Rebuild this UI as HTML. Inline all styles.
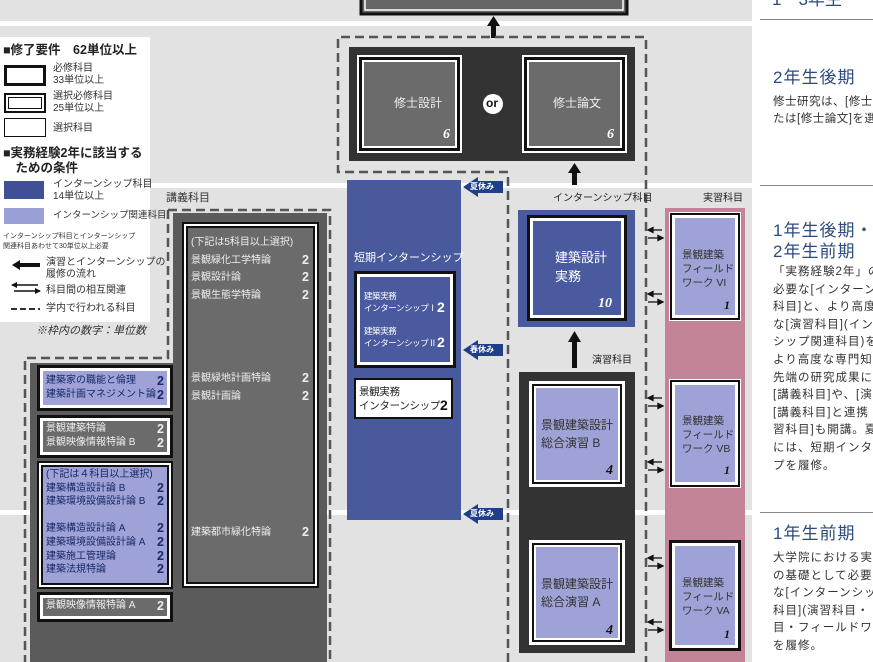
<!DOCTYPE html>
<html><head><meta charset="utf-8"><style>
*{margin:0;padding:0;box-sizing:border-box}
body{width:873px;height:662px;overflow:hidden;background:#e2e2e2;font-family:"Liberation Sans","Noto Sans CJK JP",sans-serif;position:relative}
.a{position:absolute}
.t{position:absolute;white-space:nowrap;line-height:1.2}
.num{font-weight:bold;font-style:italic;font-family:"Liberation Serif","Noto Serif CJK SC",serif}
.l b{float:right;font-size:12.5px;line-height:inherit}
</style></head><body>
<div class="a" style="left:0;top:21px;width:752px;height:5px;background:#fff"></div>
<div class="a" style="left:0;top:183px;width:752px;height:5px;background:#fff"></div>
<div class="a" style="left:0;top:510px;width:752px;height:5px;background:#fff"></div>
<div class="a" style="left:752px;top:0;width:121px;height:662px;background:#fff"></div>
<div class="a" style="left:760px;top:19px;width:113px;height:1px;background:#888"></div>
<div class="a" style="left:760px;top:185px;width:113px;height:1px;background:#888"></div>
<div class="a" style="left:760px;top:512px;width:113px;height:1px;background:#888"></div>
<div class="t" style="left:772px;top:-10px;font-size:17px;color:#2c4a7e">1・3年生</div>
<div class="t" style="left:773px;top:68px;font-size:17px;color:#2c4a7e;letter-spacing:1px">2年生後期</div>
<div class="t" style="left:773px;top:94px;font-size:11.5px;color:#333;line-height:17px;letter-spacing:0.5px">修士研究は、[修士設計]ま<br>たは[修士論文]を選択</div>
<div class="t" style="left:773px;top:220px;font-size:17px;color:#2c4a7e;line-height:21px;letter-spacing:1px">1年生後期・<br>2年生前期</div>
<div class="t" style="left:773px;top:264px;font-size:11.5px;color:#333;line-height:17.6px;letter-spacing:1px">「実務経験2年」の<br>必要な[インターンシップ<br>科目]と、より高度で<br>な[演習科目](インターン<br>シップ関連科目)を<br>より高度な専門知識<br>先端の研究成果に<br>[講義科目]や、[演習<br>[講義科目]と連携<br>習科目]も開講。夏<br>には、短期インターン<br>プを履修。</div>
<div class="t" style="left:773px;top:524px;font-size:17px;color:#2c4a7e;letter-spacing:1px">1年生前期</div>
<div class="t" style="left:773px;top:550px;font-size:11.5px;color:#333;line-height:17.6px;letter-spacing:1px">大学院における実<br>の基礎として必要<br>な[インターンシップ<br>科目](演習科目・<br>目・フィールドワーク<br>を履修。</div>

<div class="a" style="left:0;top:37px;width:150px;height:285px;background:#fff"></div>
<div class="t" style="left:3px;top:43px;font-size:12.5px;font-weight:bold;color:#222">■修了要件　62単位以上</div>
<div class="a" style="left:4px;top:65px;width:42px;height:21px;border:3px solid #111"></div>
<div class="t" style="left:53px;top:63px;font-size:10px;color:#333;line-height:12px">必修科目<br>33単位以上</div>
<div class="a" style="left:4px;top:93px;width:42px;height:20px;border:2px solid #111;outline:1.5px solid #111;outline-offset:-5px"></div>
<div class="t" style="left:53px;top:91px;font-size:10px;color:#333;line-height:12px">選択必修科目<br>25単位以上</div>
<div class="a" style="left:4px;top:118px;width:42px;height:19px;border:1.5px solid #111"></div>
<div class="t" style="left:53px;top:123px;font-size:10px;color:#333">選択科目</div>
<div class="t" style="left:3px;top:146px;font-size:12.5px;font-weight:bold;color:#222;line-height:15px">■実務経験2年に該当する<br>　ための条件</div>
<div class="a" style="left:4px;top:181px;width:40px;height:18px;background:#3f5097"></div>
<div class="t" style="left:53px;top:179px;font-size:10px;color:#333;line-height:12px">インターンシップ科目<br>14単位以上</div>
<div class="a" style="left:4px;top:208px;width:40px;height:16px;background:#9aa0d6"></div>
<div class="t" style="left:53px;top:210px;font-size:9.5px;color:#333">インターンシップ関連科目</div>
<div class="t" style="left:3px;top:232px;font-size:7px;color:#333;line-height:10px">インターンシップ科目とインターンシップ<br>関連科目あわせて30単位以上必要</div>
<svg class="a" style="left:0;top:255px" width="50" height="60">
<polygon points="12,10 20,5 20,8 40,8 40,12 20,12 20,15" fill="#111"/>
<line x1="12" y1="30" x2="38" y2="30" stroke="#111" stroke-width="1.5"/><polygon points="11,30 17,27 17,33" fill="#111"/>
<line x1="14" y1="36" x2="40" y2="36" stroke="#111" stroke-width="1.5"/><polygon points="41,36 35,33 35,39" fill="#111"/>
<line x1="11" y1="54" x2="40" y2="54" stroke="#333" stroke-width="2" stroke-dasharray="6,3"/>
</svg>
<div class="t" style="left:46px;top:257px;font-size:10px;color:#333;line-height:12px">演習とインターンシップの<br>履修の流れ</div>
<div class="t" style="left:46px;top:285px;font-size:10px;color:#333">科目間の相互関連</div>
<div class="t" style="left:46px;top:303px;font-size:10px;color:#333">学内で行われる科目</div>
<div class="t" style="left:36px;top:325px;font-size:11px;font-style:italic;color:#333">※枠内の数字：単位数</div>

<svg class="a" style="left:0;top:0" width="752" height="662">
<path d="M173 213 H327 V662 H30 V363 H173 Z" fill="#5b5b5b"/>
<path d="M168 210 H330 V662 M168 210 V358 H25 V662" fill="none" stroke="#555" stroke-width="2.5" stroke-dasharray="9,5"/>
<rect x="361" y="-4" width="266" height="18" fill="#666" stroke="#111" stroke-width="3"/>
<rect x="365" y="-4" width="258" height="14" fill="none" stroke="#fff" stroke-width="1.5"/>
<rect x="491" y="24" width="5" height="14" fill="#111"/><polygon points="493.5,16 487,26 500,26" fill="#111"/>
<rect x="572" y="171" width="5" height="14" fill="#111"/><polygon points="574.5,163 568,173 581,173" fill="#111"/>
<rect x="572" y="340" width="5" height="28" fill="#111"/><polygon points="574.5,331 568,342 581,342" fill="#111"/>
<rect x="572" y="505" width="5" height="30" fill="#fff"/><polygon points="574.5,496 568,507 581,507" fill="#fff"/>
<path d="M508 662 V172 H338 V37 H646 V662" fill="none" stroke="#555" stroke-width="2.5" stroke-dasharray="9,5"/>
<rect x="349" y="47" width="286" height="114" fill="#333"/>
<rect x="357" y="55" width="105" height="98" fill="#fff"/><rect x="359" y="57" width="101" height="94" fill="#111"/><rect x="362" y="60" width="95" height="88" fill="#fff"/><rect x="364" y="62" width="91" height="84" fill="#6b6b6b"/>
<rect x="522" y="55" width="105" height="98" fill="#fff"/><rect x="524" y="57" width="101" height="94" fill="#111"/><rect x="527" y="60" width="95" height="88" fill="#fff"/><rect x="529" y="62" width="91" height="84" fill="#6b6b6b"/>
<circle cx="493" cy="104" r="10" fill="#fff"/>
<rect x="347" y="180" width="114" height="340" fill="#485a9b"/>
<rect x="354" y="271" width="102" height="97" fill="#111"/><rect x="357" y="274" width="96" height="91" fill="#fff"/><rect x="360" y="277" width="90" height="85" fill="#4a5a9f"/>
<rect x="354" y="378" width="99" height="41" fill="#111"/><rect x="356" y="380" width="95" height="37" fill="#fff"/>
<g fill="#1f3f8a"><polygon points="463,187 478,177 478,181 503,181 503,193 478,193 478,197"/>
<polygon points="463,350 478,340 478,344 503,344 503,356 478,356 478,360"/>
<polygon points="463,514 478,504 478,508 503,508 503,520 478,520 478,524"/></g>
<rect x="518" y="210" width="117" height="117" fill="#4a5a9f"/>
<rect x="527" y="215" width="100" height="106" fill="#111"/><rect x="530" y="218" width="94" height="100" fill="#fff"/><rect x="533" y="221" width="88" height="94" fill="#4a5a9f"/>
<rect x="519" y="372" width="116" height="281" fill="#333"/>
<rect x="529" y="381" width="96" height="106" fill="#fff"/><rect x="532" y="384" width="90" height="100" fill="#111"/><rect x="534" y="386" width="86" height="96" fill="#fff"/><rect x="536" y="388" width="82" height="92" fill="#9ea2d6"/>
<rect x="529" y="540" width="96" height="105" fill="#fff"/><rect x="532" y="543" width="90" height="99" fill="#111"/><rect x="534" y="545" width="86" height="95" fill="#fff"/><rect x="536" y="547" width="82" height="91" fill="#9ea2d6"/>
<rect x="665" y="208" width="80" height="454" fill="#c28496"/>
<rect x="669" y="212" width="72" height="109" fill="#fff"/><rect x="670" y="213" width="70" height="107" fill="#111"/><rect x="672" y="215" width="66" height="103" fill="#fff"/><rect x="675" y="218" width="60" height="97" fill="#9ea2d6"/>
<rect x="669" y="379" width="72" height="109" fill="#fff"/><rect x="670" y="380" width="70" height="107" fill="#111"/><rect x="672" y="382" width="66" height="103" fill="#fff"/><rect x="675" y="385" width="60" height="97" fill="#9ea2d6"/>
<rect x="669" y="540" width="72" height="111" fill="#111"/><rect x="672" y="543" width="66" height="105" fill="#fff"/><rect x="675" y="546" width="60" height="99" fill="#9ea2d6"/>
<g stroke="#111" stroke-width="1.3" fill="#111">
<line x1="651" y1="230" x2="662" y2="230"/><polygon points="648,230 653,227.5 653,232.5"/><line x1="648" y1="238" x2="659" y2="238"/><polygon points="663,238 658,235.5 658,240.5"/>
<line x1="651" y1="294" x2="662" y2="294"/><polygon points="648,294 653,291.5 653,296.5"/><line x1="648" y1="302" x2="659" y2="302"/><polygon points="663,302 658,299.5 658,304.5"/>
<line x1="651" y1="398" x2="662" y2="398"/><polygon points="648,398 653,395.5 653,400.5"/><line x1="648" y1="406" x2="659" y2="406"/><polygon points="663,406 658,403.5 658,408.5"/>
<line x1="651" y1="462" x2="662" y2="462"/><polygon points="648,462 653,459.5 653,464.5"/><line x1="648" y1="470" x2="659" y2="470"/><polygon points="663,470 658,467.5 658,472.5"/>
<line x1="651" y1="558" x2="662" y2="558"/><polygon points="648,558 653,555.5 653,560.5"/><line x1="648" y1="566" x2="659" y2="566"/><polygon points="663,566 658,563.5 658,568.5"/>
<line x1="651" y1="622" x2="662" y2="622"/><polygon points="648,622 653,619.5 653,624.5"/><line x1="648" y1="630" x2="659" y2="630"/><polygon points="663,630 658,627.5 658,632.5"/>
</g>
<rect x="182" y="222" width="137" height="366" fill="#111"/><rect x="184" y="224" width="133" height="362" fill="#fff"/><rect x="186" y="226" width="129" height="358" fill="#111"/><rect x="188" y="228" width="125" height="354" fill="#6b6b6b"/>
<rect x="37" y="365" width="136" height="46" fill="#111"/><rect x="40" y="368" width="130" height="40" fill="#fff"/><rect x="43" y="371" width="124" height="34" fill="#9ea2d6"/>
<rect x="37" y="415" width="136" height="43" fill="#111"/><rect x="40" y="418" width="130" height="37" fill="#fff"/><rect x="43" y="421" width="124" height="31" fill="#6b6b6b"/>
<rect x="37" y="461" width="136" height="128" fill="#111"/><rect x="39" y="463" width="132" height="124" fill="#fff"/><rect x="41" y="465" width="128" height="120" fill="#111"/><rect x="43" y="467" width="124" height="116" fill="#9ea2d6"/>
<rect x="37" y="592" width="136" height="30" fill="#111"/><rect x="40" y="595" width="130" height="24" fill="#fff"/><rect x="43" y="598" width="124" height="18" fill="#6b6b6b"/>
</svg>

<div class="t" style="left:394px;top:96px;font-size:12px;color:#eee">修士設計</div>
<div class="t" style="left:553px;top:96px;font-size:12px;color:#eee">修士論文</div>
<div class="t" style="left:486px;top:96px;font-size:12px;font-weight:bold;color:#111">or</div>
<div class="t num" style="left:443px;top:127px;font-size:14px;color:#fff">6</div>
<div class="t num" style="left:607px;top:127px;font-size:14px;color:#fff">6</div>
<div class="t" style="left:470px;top:182px;font-size:8px;font-weight:bold;color:#fff">夏休み</div>
<div class="t" style="left:470px;top:345px;font-size:8px;font-weight:bold;color:#fff">春休み</div>
<div class="t" style="left:470px;top:509px;font-size:8px;font-weight:bold;color:#fff">夏休み</div>
<div class="t" style="left:354px;top:252px;font-size:11px;color:#fff">短期インターンシップ</div>
<div class="t" style="left:364px;top:290px;font-size:8.5px;color:#fff;line-height:12px;letter-spacing:-0.4px">建築実務<br>インターンシップⅠ</div>
<div class="t" style="left:437px;top:299px;font-size:14px;color:#fff;font-weight:bold">2</div>
<div class="t" style="left:364px;top:325px;font-size:8.5px;color:#fff;line-height:12px;letter-spacing:-0.4px">建築実務<br>インターンシップⅡ</div>
<div class="t" style="left:437px;top:334px;font-size:14px;color:#fff;font-weight:bold">2</div>
<div class="t" style="left:359px;top:385px;font-size:10.5px;color:#222;line-height:14px;letter-spacing:-0.3px">景観実務<br>インターンシップ</div>
<div class="t" style="left:440px;top:397px;font-size:14px;font-weight:bold;color:#111">2</div>
<div class="t" style="left:553px;top:193px;font-size:10px;color:#222">インターンシップ科目</div>
<div class="t" style="left:555px;top:248px;font-size:13px;color:#fff;line-height:19px">建築設計<br>実務</div>
<div class="t num" style="left:598px;top:296px;font-size:14px;color:#fff">10</div>
<div class="t" style="left:592px;top:355px;font-size:10px;color:#222">演習科目</div>
<div class="t" style="left:541px;top:416px;font-size:12px;color:#333;line-height:18px">景観建築設計<br>総合演習 B</div>
<div class="t num" style="left:606px;top:463px;font-size:14px;color:#111">4</div>
<div class="t" style="left:541px;top:575px;font-size:12px;color:#333;line-height:18px">景観建築設計<br>総合演習 A</div>
<div class="t num" style="left:606px;top:623px;font-size:14px;color:#111">4</div>
<div class="t" style="left:703px;top:193px;font-size:10px;color:#222">実習科目</div>
<div class="t" style="left:682px;top:248px;font-size:10.5px;color:#333;line-height:14px">景観建築<br>フィールド<br>ワーク VI</div>
<div class="t num" style="left:724px;top:298px;font-size:12px;color:#111">1</div>
<div class="t" style="left:682px;top:414px;font-size:10.5px;color:#333;line-height:14px">景観建築<br>フィールド<br>ワーク VB</div>
<div class="t num" style="left:724px;top:463px;font-size:12px;color:#111">1</div>
<div class="t" style="left:682px;top:576px;font-size:10.5px;color:#333;line-height:14px">景観建築<br>フィールド<br>ワーク VA</div>
<div class="t num" style="left:724px;top:627px;font-size:12px;color:#111">1</div>
<div class="t" style="left:166px;top:192px;font-size:11px;color:#333">講義科目</div>

<div class="a l" style="left:191px;top:234px;width:118px;font-size:10px;color:#eee;line-height:17.5px">
<div>(下記は5科目以上選択)</div>
<div>景観緑化工学特論<b>2</b></div>
<div>景観設計論<b>2</b></div>
<div>景観生態学特論<b>2</b></div>
<div style="height:66px"></div>
<div>景観緑地計画特論<b>2</b></div>
<div>景観計画論<b>2</b></div>
<div style="height:119px"></div>
<div>建築都市緑化特論<b>2</b></div>
</div>
<div class="a l" style="left:46px;top:374px;width:118px;font-size:10px;color:#1a2a6a;line-height:14px">
<div>建築家の職能と倫理<b>2</b></div>
<div>建築計画マネジメント論<b>2</b></div></div>
<div class="a l" style="left:46px;top:422px;width:118px;font-size:10px;color:#eee;line-height:14px">
<div>景観建築特論<b>2</b></div>
<div>景観映像情報特論 B<b>2</b></div></div>
<div class="a l" style="left:46px;top:468px;width:118px;font-size:10px;color:#1a2a6a;line-height:13.7px">
<div>(下記は４科目以上選択)</div>
<div>建築構造設計論 B<b>2</b></div>
<div>建築環境設備設計論 B<b>2</b></div>
<div style="height:13px"></div>
<div>建築構造設計論 A<b>2</b></div>
<div>建築環境設備設計論 A<b>2</b></div>
<div>建築施工管理論<b>2</b></div>
<div>建築法規特論<b>2</b></div></div>
<div class="a l" style="left:46px;top:599px;width:118px;font-size:10px;color:#eee;line-height:14px">
<div>景観映像情報特論 A<b>2</b></div></div>
</body></html>
